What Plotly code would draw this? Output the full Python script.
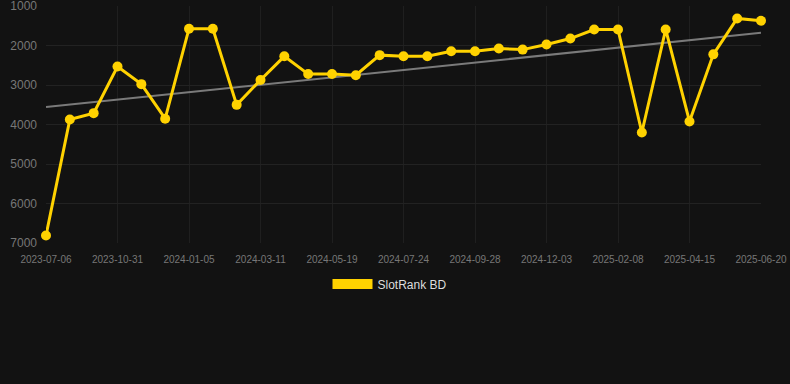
import plotly.graph_objects as go

tick_labels = ["2023-07-06", "2023-10-31", "2024-01-05", "2024-03-11", "2024-05-19",
               "2024-07-24", "2024-09-28", "2024-12-03", "2025-02-08", "2025-04-15",
               "2025-06-20"]
rank_values = [6810, 3870, 3710, 2530, 2975, 3850, 1570, 1570, 3500, 2870,
               2270, 2720, 2720, 2750, 2240, 2270, 2270, 2140, 2140, 2070,
               2100, 1970, 1820, 1590, 1590, 4200, 1590, 3920, 2220, 1310, 1370]
trend_values = [3557, 1675]
series_name = "SlotRank BD"
y_ticks = [1000, 2000, 3000, 4000, 5000, 6000, 7000]

n = len(rank_values)
x_idx = list(range(n))
tick_pos = list(range(0, n, 3))

gold = "#FFD200"
fig = go.Figure()
fig.add_trace(go.Scatter(
    x=[0, n - 1], y=trend_values, mode="lines",
    line=dict(color="#7a7a7a", width=2), showlegend=False, hoverinfo="skip"))
fig.add_trace(go.Scatter(
    x=x_idx, y=rank_values, mode="lines+markers",
    line=dict(color=gold, width=3), marker=dict(color=gold, size=10),
    cliponaxis=False, showlegend=False, name=series_name))
fig.add_trace(go.Scatter(
    x=[None], y=[None], mode="lines", line=dict(color=gold, width=12),
    name=series_name, showlegend=True))

fig.update_layout(
    width=790, height=384,
    margin=dict(l=46, r=29, t=6, b=141, autoexpand=False),
    paper_bgcolor="#121212", plot_bgcolor="#121212",
    font=dict(family="Liberation Sans, Arial, sans-serif", color="#777", size=12),
    xaxis=dict(range=[0, n - 1], tickvals=tick_pos, ticktext=tick_labels,
               showgrid=True, gridcolor="#1f1f1f", zeroline=False, automargin=False,
               tickfont=dict(size=10, color="#777"), ticks="", ticklabelstandoff=9),
    yaxis=dict(range=[7000, 995], tickvals=y_ticks, showgrid=True,
               gridcolor="#222", zeroline=False, ticklabeloverflow="allow",
               automargin=False,
               tickfont=dict(size=12, color="#777"), ticks="", ticklabelstandoff=8),
    legend=dict(orientation="h", xref="container", yref="container",
                x=0.5 - 5 / 790, xanchor="center", y=1 - 284 / 384, yanchor="middle",
                font=dict(size=12, color="#dddddd"), itemwidth=40,
                bgcolor="rgba(0,0,0,0)"),
)
fig.write_html("out.html", config={"displayModeBar": False},
               post_script="document.body.style.margin='0';document.body.style.background='#121212';")
